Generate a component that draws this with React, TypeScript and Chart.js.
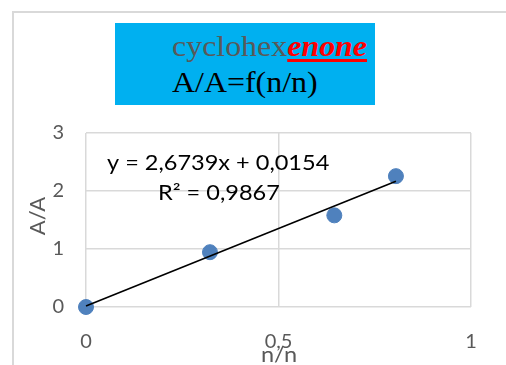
import React, { useEffect, useRef } from "react";
import { Chart, registerables } from "chart.js";
Chart.register(...registerables);

const xValues = [0, 0.322, 0.645, 0.805];
const yValues = [0, 0.945, 1.58, 2.256];
const slope = 2.6739;
const intercept = 0.0154;
const rSquared = 0.9867;
const xTickValues = [0, 0.5, 1];
const yTickValues = [0, 1, 2, 3];
const titleGray = "cyclohex";
const titleRed = "enone";
const titleLine2 = "A/A=f(n/n)";
const xAxisTitle = "n/n";
const yAxisTitle = "A/A";

const fmt = (v: number) => String(v).replace(".", ",");
const sans = "Lato, 'Noto Sans', sans-serif";
const STRETCH = 1.12;

const overlayPlugin = {
  id: "overlay",
  afterDraw(chart: any) {
    const ctx = chart.ctx;
    ctx.save();
    // outer frame
    ctx.strokeStyle = "#d9d9d9";
    ctx.lineWidth = 2;
    ctx.beginPath();
    ctx.moveTo(13, 366);
    ctx.lineTo(13, 12);
    ctx.lineTo(507, 12);
    ctx.stroke();
    // equation
    ctx.fillStyle = "#000000";
    ctx.font = `21px ${sans}`;
    ctx.textBaseline = "middle";
    ctx.textAlign = "left";
    ctx.save();
    ctx.translate(107, 163);
    ctx.scale(STRETCH, 1);
    ctx.fillText(`y = ${fmt(slope)}x + ${fmt(intercept)}`, 0, 0);
    ctx.restore();
    ctx.save();
    ctx.translate(158, 193);
    ctx.scale(STRETCH, 1);
    ctx.fillText(`R² = ${fmt(rSquared)}`, 0, 0);
    ctx.restore();
    // axis titles
    ctx.fillStyle = "#595959";
    ctx.font = `21px ${sans}`;
    ctx.textAlign = "center";
    ctx.save();
    ctx.translate(279, 355);
    ctx.scale(STRETCH, 1);
    ctx.fillText(xAxisTitle, 0, 0);
    ctx.restore();
    ctx.translate(38, 216);
    ctx.rotate(-Math.PI / 2);
    ctx.scale(1.05, 1);
    ctx.fillText(yAxisTitle, 0, 0);
    ctx.restore();
  },
};

export default function App() {
  const ref = useRef<HTMLCanvasElement>(null);
  useEffect(() => {
    if (!ref.current) return;
    const xMin = Math.min(...xValues);
    const xMax = Math.max(...xValues);
    const chart = new Chart(ref.current, {
      type: "scatter",
      data: {
        datasets: [
          {
            type: "line",
            data: [
              { x: xMin, y: slope * xMin + intercept },
              { x: xMax, y: slope * xMax + intercept },
            ],
            borderColor: "#000000",
            borderWidth: 1.6,
            pointRadius: 0,
            fill: false,
            clip: false,
            order: 0,
          } as any,
          {
            data: xValues.map((x, i) => ({ x, y: yValues[i] })),
            backgroundColor: "#4F81BD",
            borderColor: "#4F81BD",
            pointRadius: 7.5,
            clip: false,
            order: 1,
          } as any,
        ],
      },
      options: {
        responsive: false,
        animation: false,
        devicePixelRatio: 1,
        layout: { padding: { top: 133, right: 35, left: 0, bottom: 0 } },
        plugins: { legend: { display: false }, tooltip: { enabled: false } },
        scales: {
          x: {
            type: "linear",
            min: 0,
            max: 1,
            afterBuildTicks: (s: any) => {
              s.ticks = xTickValues.map((v) => ({ value: v }));
            },
            afterFit: (s: any) => {
              s.height = 58;
            },
            ticks: {
              color: "#595959",
              font: { family: sans, size: 20 },
              padding: 23,
              maxRotation: 0,
              callback: (v: any) => fmt(v),
            },
            grid: { color: "#d9d9d9", lineWidth: 1.5, drawTicks: false },
            border: { display: false },
          },
          y: {
            min: 0,
            max: 3,
            afterBuildTicks: (s: any) => {
              s.ticks = yTickValues.map((v) => ({ value: v }));
            },
            afterFit: (s: any) => {
              s.width = 86;
            },
            ticks: {
              color: "#595959",
              font: { family: sans, size: 20 },
              padding: 22,
              callback: (v: any) => fmt(v),
            },
            grid: { color: "#d9d9d9", lineWidth: 1.5, drawTicks: false },
            border: { display: false },
          },
        },
      },
      plugins: [overlayPlugin],
    } as any);
    return () => chart.destroy();
  }, []);

  const serif = "'Liberation Serif', 'Times New Roman', serif";
  return (
    <div style={{ position: "fixed", left: 0, top: 0, width: 506, height: 365, background: "#fff", overflow: "hidden" }}>
      <canvas ref={ref} width={506} height={365} style={{ position: "absolute", left: 0, top: 0 }} />
      <div
        style={{
          position: "absolute",
          left: 115,
          top: 23,
          width: 260,
          height: 82,
          background: "#00B0F0",
        }}
      />
      <div
        style={{
          position: "absolute",
          left: 172,
          top: 32,
          fontFamily: serif,
          fontSize: 28.5,
          lineHeight: "29px",
          whiteSpace: "nowrap",
          transform: `scaleX(${STRETCH})`,
          transformOrigin: "left top",
        }}
      >
        <span style={{ color: "#595959" }}>{titleGray}</span>
        <span
          style={{
            color: "#FF0000",
            fontWeight: "bold",
            fontStyle: "italic",
            textDecoration: "underline",
            textDecorationThickness: 3,
            textUnderlineOffset: 3,
          }}
        >
          {titleRed}
        </span>
      </div>
      <div
        style={{
          position: "absolute",
          left: 172,
          top: 68,
          fontFamily: serif,
          fontSize: 28.5,
          lineHeight: "29px",
          color: "#000000",
          whiteSpace: "nowrap",
          transform: `scaleX(${STRETCH})`,
          transformOrigin: "left top",
        }}
      >
        {titleLine2}
      </div>
    </div>
  );
}
